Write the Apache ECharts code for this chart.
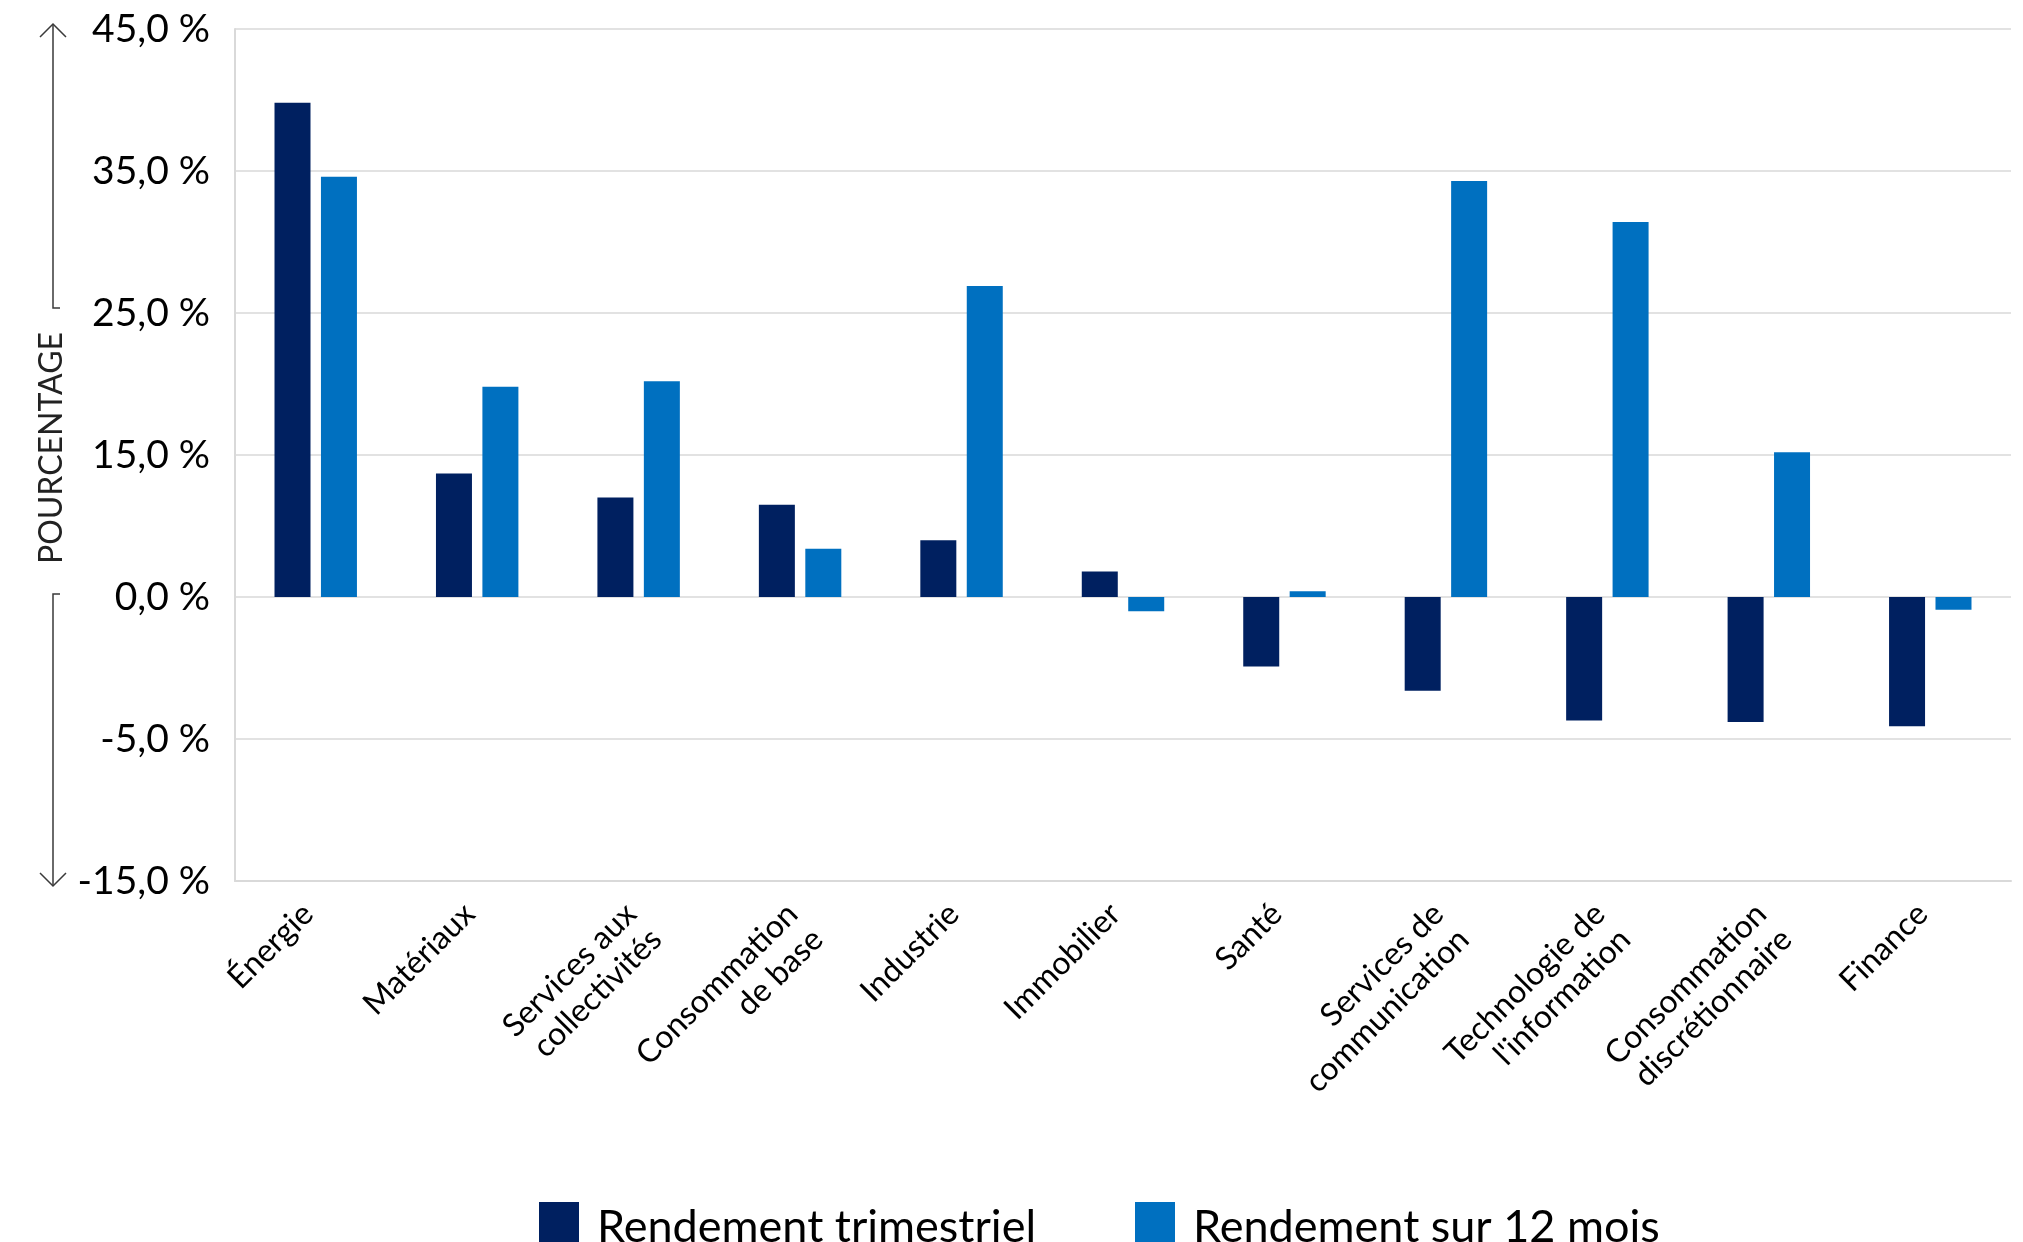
<!DOCTYPE html>
<html>
<head>
<meta charset="utf-8">
<title>Rendement par secteur</title>
<script src="https://cdn.jsdelivr.net/npm/echarts@6/dist/echarts.min.js"></script>
<style>
	html, body { margin: 0; padding: 0; background: #fff; }
	#chart { width: 2023px; height: 1242px; }
</style>
</head>
<body>
<div id="chart"></div>
<script>
	const secteurs = [
		'Énergie',
		'Matériaux',
		'Services aux\ncollectivités',
		'Consommation\nde base',
		'Industrie',
		'Immobilier',
		'Santé',
		'Services de\ncommunication',
		'Technologie de\nl\'information',
		'Consommation\ndiscrétionnaire',
		'Finance'
	]
	const rendementTrimestriel = [34.8, 8.7, 7.0, 6.5, 4.0, 1.8, -4.9, -6.6, -8.7, -8.8, -9.1]
	const rendement12Mois = [29.6, 14.8, 15.2, 3.4, 21.9, -1.0, 0.4, 29.3, 26.4, 10.2, -0.9]

	// les étiquettes de l'axe d'origine ne sont pas linéaires : une étiquette par ligne de grille
	const yTicks = [-20, -10, 0, 10, 20, 30, 40]
	const yTickLabels = ['-15,0 %', '-5,0 %', '0,0 %', '15,0 %', '25,0 %', '35,0 %', '45,0 %']

	const police = 'Lato'
	const gris = '#d9d9d9'
	const fleche = '#3a3a3a'

	// une légende par série pour caler chaque carré à sa place
	const legende = (nom, gauche) => ({
		left: gauche,
		top: 1197,
		icon: 'rect',
		itemWidth: 40,
		itemHeight: 50,
		textStyle: {
			fontFamily: police,
			fontSize: 45,
			color: '#000',
			padding: [0, 0, 0, 13]
		},
		data: [nom]
	})

	const option = {
		animation: false,
		grid: {
			left: 235,
			right: 12,
			top: 29,
			bottom: 361,
			outerBoundsMode: 'none'
		},
		legend: [
			legende('Rendement trimestriel', 534),
			legende('Rendement sur 12 mois', 1130)
		],
		xAxis: {
			type: 'category',
			data: secteurs,
			axisLine: {
				onZero: false,
				lineStyle: { color: gris, width: 2 }
			},
			axisTick: {
				alignWithLabel: true,
				length: 11,
				lineStyle: { color: gris, width: 2 }
			},
			axisLabel: {
				interval: 0,
				rotate: 45,
				margin: 20,
				padding: [0, 11, 0, 0],
				fontFamily: police,
				fontSize: 32,
				lineHeight: 36,
				color: '#000',
				// ligne vide devant : la première ligne reste à la hauteur du repère
				formatter: (v) => v.indexOf('\n') >= 0 ? '\n' + v : v
			}
		},
		yAxis: {
			type: 'value',
			min: -20,
			max: 40,
			interval: 10,
			axisLine: {
				show: true,
				lineStyle: { color: gris, width: 2 }
			},
			axisTick: { show: false },
			splitLine: {
				lineStyle: { color: gris, width: 1.5 }
			},
			axisLabel: {
				margin: 25,
				fontFamily: police,
				fontSize: 39,
				color: '#000',
				formatter: (v) => {
					const i = yTicks.indexOf(Math.round(v))
					return i >= 0 ? yTickLabels[i] : ''
				}
			}
		},
		series: [
			{
				name: 'Rendement trimestriel',
				type: 'bar',
				barWidth: 36,
				barGap: '29%',
				itemStyle: { color: '#002060' },
				data: rendementTrimestriel
			},
			{
				name: 'Rendement sur 12 mois',
				type: 'bar',
				barWidth: 36,
				barGap: '29%',
				itemStyle: { color: '#0070c0' },
				data: rendement12Mois
			}
		],
		graphic: [
			// flèche du haut
			{ type: 'polyline', shape: { points: [[40, 37], [53, 24], [66, 37]] }, style: { stroke: fleche, lineWidth: 1.5, fill: null } },
			{ type: 'polyline', shape: { points: [[53, 24], [53, 308], [60, 308]] }, style: { stroke: fleche, lineWidth: 1.5, fill: null } },
			{
				type: 'text',
				x: 52,
				y: 448,
				rotation: Math.PI / 2,
				style: {
					text: 'POURCENTAGE',
					fontFamily: police,
					fontSize: 32,
					fill: '#222',
					align: 'center',
					verticalAlign: 'middle'
				}
			},
			// flèche du bas
			{ type: 'polyline', shape: { points: [[60, 594], [53, 594], [53, 886]] }, style: { stroke: fleche, lineWidth: 1.5, fill: null } },
			{ type: 'polyline', shape: { points: [[40, 873], [53, 886], [66, 873]] }, style: { stroke: fleche, lineWidth: 1.5, fill: null } }
		]
	}

	let Echarts = echarts.init(document.getElementById('chart'))
	Echarts.setOption(option)
	window.onresize = () => {
		Echarts.resize()
	}
</script>
</body>
</html>
